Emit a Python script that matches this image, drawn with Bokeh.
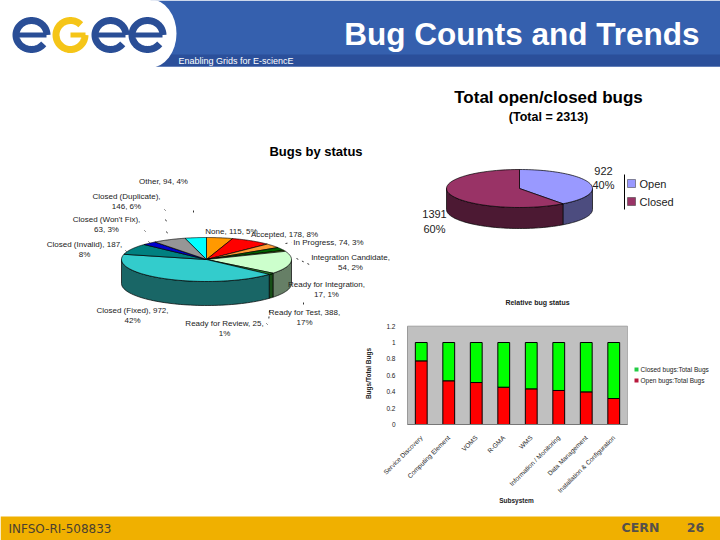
import numpy as np
from bokeh.core.properties import value
from bokeh.embed import file_html
from bokeh.resources import INLINE
from bokeh.plotting import figure
from bokeh.models import Range1d, LinearAxis, FixedTicker, ColumnDataSource

# ---- data ----
status_names = ["None", "Accepted", "In Progress", "Integration Candidate", "Ready for Integration",
                "Ready for Test", "Ready for Review", "Closed (Fixed)", "Closed (Invalid)",
                "Closed (Won't Fix)", "Closed (Duplicate)", "Other"]
status_counts = [115, 178, 74, 54, 17, 388, 25, 972, 187, 63, 146, 94]
status_colors = ["#FF9900", "#FF0000", "#FF9933", "#006600", "#99CC00", "#CCFFCC", "#2E9E2E",
                 "#33CCCC", "#008080", "#0000CC", "#969696", "#00FFFF"]
status_label_lines = [
    ["None, 115, 5%"], ["Accepted, 178, 8%"], ["In Progress, 74, 3%"],
    ["Integration Candidate,", "54, 2%"], ["Ready for Integration,", "17, 1%"],
    ["Ready for Test, 388,", "17%"], ["Ready for Review, 25,", "1%"],
    ["Closed (Fixed), 972,", "42%"], ["Closed (Invalid), 187,", "8%"],
    ["Closed (Won't Fix),", "63, 3%"], ["Closed (Duplicate),", "146, 6%"], ["Other, 94, 4%"]]
status_label_x = [231, 284, 328, 350, 326, 304, 224, 132, 84, 106, 126, 163]
status_label_y = [231, 234, 242, 257, 284, 312, 323, 310, 244, 219, 196, 181]

total_names = ["Open", "Closed"]
total_counts = [922, 1391]
total_colors = ["#9999FF", "#993366"]

subsystems = ["Service Discovery", "Computing Element", "VOMS", "R-GMA", "WMS",
              "Information / Monitoring", "Data Management", "Installation & Configuration"]
open_ratio = [0.776, 0.533, 0.512, 0.455, 0.435, 0.415, 0.398, 0.317]
closed_ratio = [0.224, 0.467, 0.488, 0.545, 0.565, 0.585, 0.602, 0.683]
ratio_ticks = [0, 0.2, 0.4, 0.6, 0.8, 1, 1.2]
ratio_tick_labels = ["0", "0.2", "0.4", "0.6", "0.8", "1", "1.2"]

leader_xs = [[296, 311], [164, 165], [165, 166], [144, 145], [166, 167], [148, 149], [125, 126],
             [193, 193], [303, 303], [269, 268], [285, 291], [266, 267]]
leader_ys = [[258, 265], [209, 210], [219, 221], [230, 231], [231, 233], [241, 242], [250, 251],
             [210, 215], [302, 306], [310, 322], [243, 242], [323, 324]]

BLUE = "#3560AE"
BLUE_D = "#2B4F9A"
GOLD = "#F0B000"
FONT = "Liberation Sans"


def darken(c, f=0.5):
    r, g, b = (int(c[i:i + 2], 16) for i in (1, 3, 5))
    return "#%02x%02x%02x" % (int(r * f), int(g * f), int(b * f))


def arc(cx, cy, rx, ry, t0, t1, n=60):
    t = np.radians(np.linspace(t0, t1, n))
    return cx + rx * np.sin(t), cy - ry * np.cos(t)


def pie3d(p, counts, colors, cx, cy, rx, ry, depth):
    edges = np.concatenate([[0], np.cumsum(counts)]) / np.sum(counts) * 360
    for a, b, c in zip(edges[:-1], edges[1:], colors):
        lo, hi = max(a, 90), min(b, 270)
        if lo < hi:
            x, y = arc(cx, cy, rx, ry, lo, hi)
            p.patch(np.r_[x, x[::-1]], np.r_[y, y[::-1] + depth], fill_color=darken(c),
                    line_color="black", line_width=0.7)
    for a, b, c in zip(edges[:-1], edges[1:], colors):
        x, y = arc(cx, cy, rx, ry, a, b)
        p.patch(np.r_[cx, x], np.r_[cy, y], fill_color=c, line_color="black", line_width=0.7)


def txt(p, x, y, s, size, color="#111111", bold=False, align="left", font=FONT, angle=0):
    p.text([x], [y], text=[s], text_font=value(font), text_font_size=value(f"{size}px"),
           text_color=color, text_font_style="bold" if bold else "normal", text_align=align,
           text_baseline="middle", angle=angle)


PX0, PX1, PY0, PY1 = 0, 720, 0, 540
p = figure(width=PX1 - PX0, height=PY1 - PY0, output_backend="svg", toolbar_location=None,
           x_range=Range1d(PX0, PX1), y_range=Range1d(PY1, PY0), min_border=0,
           x_axis_type=None, y_axis_type=None, outline_line_color=None,
           background_fill_color="white", border_fill_color="white")
p.grid.visible = False

# ---- slide furniture ----
p.quad(left=150, right=PX1, top=0, bottom=66, fill_color=BLUE, line_color=None)
p.quad(left=150, right=PX1, top=54, bottom=66, fill_color=BLUE_D, line_color=None)
p.ellipse(x=150, y=33, width=52, height=68, fill_color="white", line_color=None)
p.quad(left=PX0, right=150, top=0, bottom=67, fill_color="white", line_color=None)
p.quad(left=PX0, right=PX1, top=516, bottom=PY1, fill_color=GOLD, line_color=None)

# logo
for cx in (31, 110, 147):
    x, y = arc(cx, 34.5, 15.5, 14.5, 90, -232)
    p.line(x, y, line_color="#2A4E96", line_width=7)
    p.line([cx - 15, cx + 15], [34.5, 34.5], line_color="#2A4E96", line_width=5)
x, y = arc(70, 34.5, 14.5, 14.5, 45, -270)
p.line(x, y, line_color="#F5C518", line_width=7)
p.line([70, 85], [34.5, 34.5], line_color="#F5C518", line_width=5)

txt(p, 699, 33, "Bug Counts and Trends", 31.5, "white", True, "right")
txt(p, 178, 60.5, "Enabling Grids for E-sciencE", 9, "white")
txt(p, 8, 528, "INFSO-RI-508833", 12, "#4A4030", font="DejaVu Sans")
txt(p, 640, 527, "CERN", 12.5, "#55504A", True, "center", font="DejaVu Sans")
txt(p, 695, 527, "26", 12.5, "#55504A", True, "center", font="DejaVu Sans")

# ---- bugs by status ----
txt(p, 315.5, 151, "Bugs by status", 13, "black", True, "center")
pie3d(p, status_counts, status_colors, 206, 259, 85, 22, 24)
for lines, lx, ly in zip(status_label_lines, status_label_x, status_label_y):
    for i, s in enumerate(lines):
        txt(p, lx, ly + i * 9.5, s, 8, "#222222", False, "center")
p.multi_line(leader_xs, leader_ys, line_color="black", line_width=0.8, line_dash="dotted")

# ---- total open/closed ----
txt(p, 548, 97, "Total open/closed bugs", 17, "black", True, "center")
txt(p, 548, 116, "(Total = 2313)", 12.5, "black", True, "center")
pie3d(p, total_counts, total_colors, 519, 188, 73, 19, 21)
for lx, ly, s in [(603, 170.5, f"{total_counts[0]}"), (603, 184.5, "40%"),
                  (434, 213, f"{total_counts[1]}"), (434, 228, "60%")]:
    txt(p, lx, ly, s, 11, "#222222", False, "center")
p.line([624, 624], [174, 209], line_color="black", line_width=1)
p.rect([631, 631], [183, 201], width=8, height=8, fill_color=total_colors,
       line_color="#333333", line_width=0.5)
for ly, s in zip([183, 201], total_names):
    txt(p, 639, ly, s, 11, "#222222")

# ---- relative bug status: its own scales, mapped into the frame ----
BL, BR, B0, B1 = 407.0, 627.0, 424.0, 325.6
ux = (BR - BL) / len(subsystems)
uy = (B0 - B1) / 1.2
p.extra_x_ranges["bars"] = Range1d((PX0 - BL) / ux - 0.5, (PX1 - BL) / ux - 0.5)
p.extra_y_ranges["ratio"] = Range1d((B0 - PY1) / uy, (B0 - PY0) / uy)
rk = dict(x_range_name="bars", y_range_name="ratio")

idx = list(range(len(subsystems)))
p.quad(left=-0.5, right=len(subsystems) - 0.5, bottom=0, top=1.2, fill_color="#C0C0C0",
       line_color="#9A9A9A", line_width=0.7, **rk)
src = ColumnDataSource(dict(x=idx, o=open_ratio, c=closed_ratio,
                            t=[a + b for a, b in zip(open_ratio, closed_ratio)]))
p.vbar(x="x", width=0.43, bottom=0, top="o", source=src, fill_color="#FF0000",
       line_color="black", line_width=1, **rk)
p.vbar(x="x", width=0.43, bottom="o", top="t", source=src, fill_color="#00FF00",
       line_color="black", line_width=1, **rk)

xa = LinearAxis(fixed_location=0, bounds=(-0.5, len(subsystems) - 0.5), ticker=FixedTicker(ticks=idx),
                major_label_overrides=dict(zip(idx, subsystems)), major_label_orientation=np.pi / 4,
                major_label_text_font=FONT, major_label_text_font_size="6.5px",
                major_label_text_color="#222222", major_label_standoff=6,
                major_tick_line_color=None, minor_tick_line_color=None, axis_line_color="#777777", **rk)
p.add_layout(xa, "below")
ya = LinearAxis(fixed_location=-0.5, bounds=(0, 1.2), ticker=FixedTicker(ticks=ratio_ticks),
                major_label_overrides=dict(zip(ratio_ticks, ratio_tick_labels)),
                major_label_text_font=FONT, major_label_text_font_size="6.5px",
                major_label_text_color="#222222", major_label_standoff=6,
                major_tick_line_color=None, minor_tick_line_color=None, axis_line_color="#9A9A9A", **rk)
p.add_layout(ya, "left")

txt(p, 537, 302, "Relative bug status", 7, "#222222", True, "center")
txt(p, 516, 500, "Subsystem", 6.5, "#222222", True, "center")
txt(p, 368, 373, "Bugs/Total Bugs", 6.5, "#222222", True, "center", angle=np.pi / 2)
p.rect([636, 636], [369, 380], width=4, height=4, fill_color=["#22CC44", "#B8183C"], line_color=None)
txt(p, 640, 369, "Closed bugs:Total Bugs", 6.5, "#222222")
txt(p, 640, 380, "Open bugs:Total Bugs", 6.5, "#222222")

open("out.html", "w").write(file_html(p, INLINE))
